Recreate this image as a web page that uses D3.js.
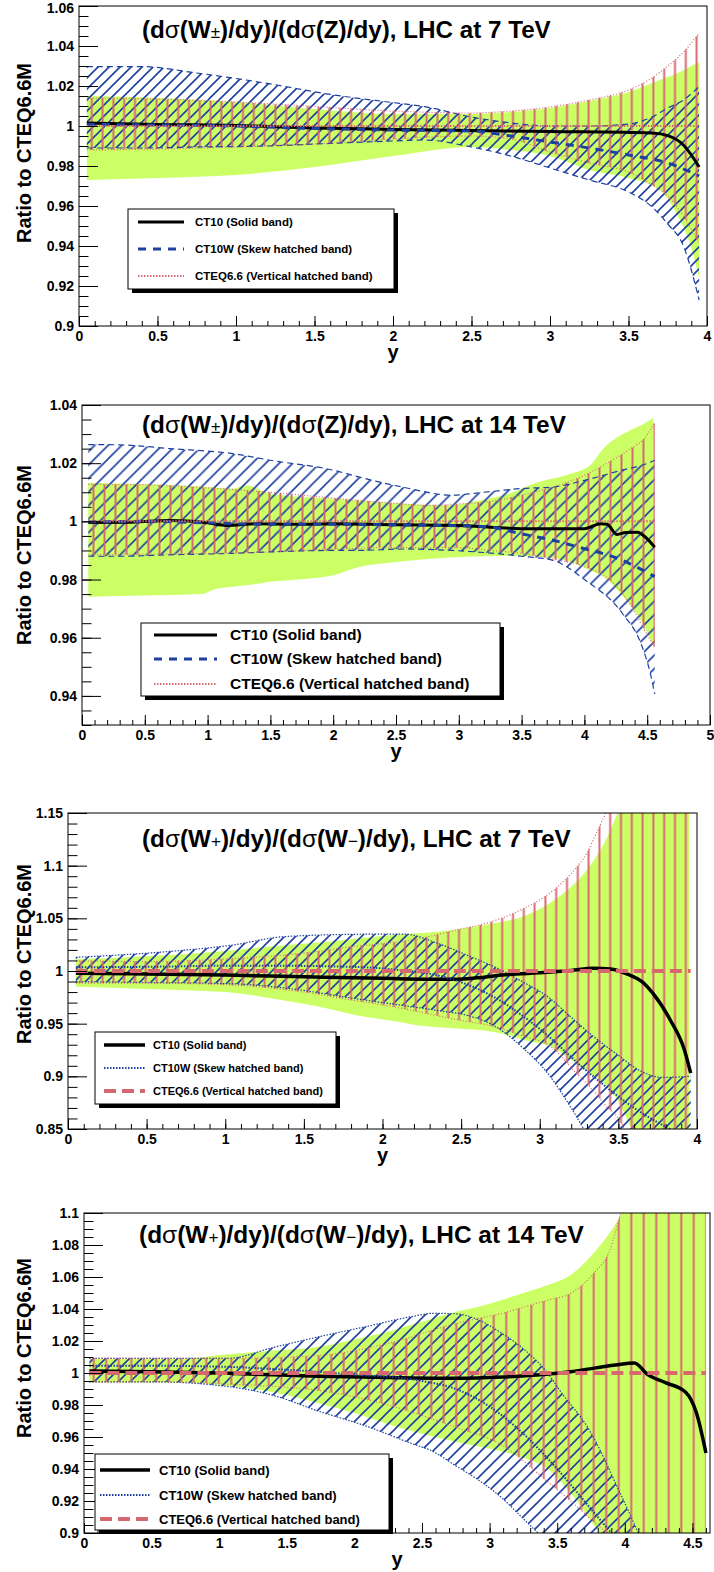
<!DOCTYPE html>
<html><head><meta charset="utf-8">
<script src="https://cdn.jsdelivr.net/npm/d3@7"></script>
<style>body{margin:0;background:#fff}svg{display:block}</style>
</head><body>
<svg id="c" width="714" height="1572"></svg>
<script>
// ---------------- DATA ----------------
// Panel 1: W±/Z, 7 TeV
const p1Ct10X  = [0.05, 0.5, 1.0, 1.5, 2.0, 2.5, 2.75, 3.0, 3.25, 3.5, 3.7, 3.8, 3.9, 3.95];
const p1Ct10Hi = [1.015, 1.014, 1.012, 1.0085, 1.006, 1.006, 1.007, 1.009, 1.0125, 1.017, 1.023, 1.026, 1.030, 1.032];
const p1Ct10Lo = [0.973, 0.974, 0.9755, 0.9795, 0.985, 0.9895, 0.988, 0.985, 0.978, 0.974, 0.968, 0.957, 0.939, 0.924];
const p1Ct10CX = [0.05, 0.5, 1.0, 1.5, 2.0, 2.5, 3.0, 3.5, 3.65, 3.75, 3.85, 3.95];
const p1Ct10C  = [1.0015, 1.0008, 1.0003, 0.999, 0.9983, 0.9978, 0.9972, 0.9968, 0.9965, 0.9952, 0.9905, 0.9795];
const p1WX  = [0.05, 0.4, 0.75, 1.2, 1.6, 2.0, 2.2, 2.5, 2.75, 3.0, 3.25, 3.5, 3.65, 3.75, 3.85, 3.95];
const p1WHi = [1.0297, 1.0297, 1.0265, 1.0213, 1.0158, 1.0117, 1.0097, 1.0045, 1.0015, 1.0, 1.0, 1.001, 1.0045, 1.009, 1.013, 1.0197];
const p1WLo = [0.989, 0.989, 0.9895, 0.990, 0.9913, 0.9925, 0.993, 0.9895, 0.985, 0.979, 0.973, 0.967, 0.9595, 0.951, 0.94, 0.913];
const p1WCX = [0.05, 0.5, 1.0, 1.5, 2.0, 2.5, 2.75, 3.0, 3.25, 3.5, 3.75, 3.95];
const p1WC  = [1.0008, 1.0005, 1.0, 0.9988, 0.998, 0.9975, 0.995, 0.992, 0.989, 0.9855, 0.9815, 0.975];
const p1QX  = [0.05, 0.5, 1.0, 1.5, 2.0, 2.5, 2.75, 3.0, 3.25, 3.5, 3.65, 3.75, 3.85, 3.95];
const p1QHi = [1.014, 1.0135, 1.012, 1.0098, 1.0075, 1.0065, 1.0075, 1.0095, 1.013, 1.018, 1.024, 1.030, 1.037, 1.0465];
const p1QLo = [0.988, 0.9885, 0.9895, 0.991, 0.9935, 0.995, 0.9935, 0.987, 0.9815, 0.977, 0.9705, 0.965, 0.955, 0.941];
const p1QCX = [0.05, 3.95];
const p1QC  = [1, 1];

// Panel 2: W±/Z, 14 TeV
const p2Ct10X  = [0.05, 0.5, 0.95, 1.05, 1.2, 1.3, 1.5, 2.0, 2.2, 2.5, 2.9, 3.2, 3.4, 3.6, 3.9, 4.05, 4.15, 4.35, 4.45, 4.55];
const p2Ct10Hi = [1.0133, 1.0128, 1.012, 1.0116, 1.0112, 1.0124, 1.0095, 1.0078, 1.0072, 1.0062, 1.0055, 1.0075, 1.0095, 1.013, 1.0165, 1.0195, 1.025, 1.031, 1.033, 1.0355];
const p2Ct10Lo = [0.9741, 0.9745, 0.975, 0.9766, 0.9775, 0.978, 0.9792, 0.9815, 0.9842, 0.986, 0.9875, 0.988, 0.9882, 0.988, 0.986, 0.983, 0.981, 0.972, 0.966, 0.957];
const p2Ct10CX = [0.05, 0.4, 0.7, 1.0, 1.15, 1.4, 1.7, 2.0, 2.5, 3.0, 3.5, 4.0, 4.13, 4.18, 4.26, 4.33, 4.42, 4.5, 4.56];
const p2Ct10C  = [0.9996, 0.9997, 1.0003, 0.9995, 0.9986, 0.9992, 0.999, 0.9992, 0.9988, 0.9986, 0.9975, 0.9975, 0.9992, 0.999, 0.9955, 0.9962, 0.9963, 0.994, 0.9911];
const p2WX  = [0.05, 0.3, 0.7, 1.2, 1.5, 2.0, 2.2, 2.55, 2.95, 3.2, 3.5, 3.75, 4.0, 4.3, 4.45, 4.52, 4.56];
const p2WHi = [1.0264, 1.0263, 1.025, 1.0233, 1.021, 1.0176, 1.0153, 1.0118, 1.009, 1.010, 1.0113, 1.0118, 1.0141, 1.0176, 1.0192, 1.0202, 1.021];
const p2WLo = [0.988, 0.988, 0.9885, 0.989, 0.9895, 0.990, 0.990, 0.9905, 0.990, 0.9893, 0.988, 0.9866, 0.980, 0.9685, 0.958, 0.9486, 0.9407];
const p2WCX = [0.05, 0.5, 1.0, 1.5, 2.0, 2.5, 3.0, 3.25, 3.5, 3.75, 4.0, 4.25, 4.42, 4.56];
const p2WC  = [0.9998, 1.0, 0.9995, 0.999, 0.999, 0.9988, 0.9985, 0.998, 0.9957, 0.9935, 0.9906, 0.9875, 0.9842, 0.981];
const p2QX  = [0.05, 0.5, 1.0, 1.5, 2.0, 2.5, 2.75, 3.0, 3.25, 3.5, 3.75, 4.0, 4.2, 4.35, 4.5, 4.56];
const p2QHi = [1.0127, 1.0126, 1.0115, 1.010, 1.008, 1.0062, 1.0055, 1.006, 1.0068, 1.009, 1.0118, 1.0158, 1.0205, 1.0245, 1.0297, 1.034];
const p2QLo = [0.9885, 0.9887, 0.989, 0.9895, 0.9905, 0.991, 0.991, 0.991, 0.990, 0.989, 0.987, 0.9845, 0.980, 0.9725, 0.961, 0.9566];
const p2QCX = [0.05, 4.56];
const p2QC  = [1, 1];

// Panel 3: W+/W-, 7 TeV
const p3Ct10X  = [0.05, 0.5, 1.0, 1.3, 1.6, 1.85, 2.05, 2.25, 2.45, 2.7, 2.9, 3.1, 3.2, 3.3, 3.43, 3.5, 3.6, 3.8, 3.95];
const p3Ct10Hi = [1.0111, 1.014, 1.019, 1.0235, 1.027, 1.031, 1.034, 1.036, 1.039, 1.045, 1.052, 1.068, 1.08, 1.096, 1.1275, 1.152, 1.19, 1.27, 1.33];
const p3Ct10Lo = [0.9851, 0.983, 0.980, 0.974, 0.966, 0.9575, 0.953, 0.948, 0.9456, 0.9424, 0.9345, 0.926, 0.9155, 0.905, 0.890, 0.876, 0.845, 0.80, 0.77];
const p3Ct10CX = [0.05, 0.5, 1.0, 1.5, 2.0, 2.47, 2.6, 2.76, 3.05, 3.2, 3.34, 3.45, 3.57, 3.65, 3.72, 3.83, 3.92, 3.96];
const p3Ct10C  = [0.9978, 0.9972, 0.9962, 0.9945, 0.993, 0.9921, 0.9935, 0.9962, 0.9987, 1.0005, 1.0025, 1.002, 0.9962, 0.990, 0.9788, 0.9535, 0.925, 0.903];
const p3WX  = [0.05, 0.63, 1.05, 1.37, 1.86, 2.14, 2.35, 2.56, 2.71, 2.9, 3.05, 3.2, 3.34, 3.5, 3.63, 3.78, 3.96];
const p3WHi = [1.013, 1.0184, 1.0247, 1.0326, 1.0349, 1.0351, 1.0263, 1.0136, 1.0041, 0.989, 0.9757, 0.956, 0.938, 0.92, 0.906, 0.899, 0.9];
const p3WLo = [0.9897, 0.9888, 0.9878, 0.984, 0.973, 0.967, 0.9625, 0.957, 0.948, 0.926, 0.903, 0.87, 0.835, 0.80, 0.77, 0.74, 0.70];
const p3WCX = [0.05, 0.5, 1.0, 1.3, 1.8, 2.1, 2.4, 2.7, 3.0, 3.3, 3.6, 3.96];
const p3WC  = [1.0035, 1.004, 1.005, 1.005, 1.004, 1.001, 0.994, 0.976, 0.945, 0.905, 0.87, 0.84];
const p3QX  = [0.05, 0.5, 1.0, 1.5, 1.82, 2.0, 2.24, 2.5, 2.66, 2.88, 3.09, 3.22, 3.3, 3.36, 3.42, 3.5, 3.6, 3.8, 3.95];
const p3QHi = [1.0098, 1.009, 1.0115, 1.017, 1.0234, 1.026, 1.031, 1.040, 1.0453, 1.058, 1.077, 1.096, 1.112, 1.131, 1.15, 1.18, 1.21, 1.27, 1.33];
const p3QLo = [0.9885, 0.9885, 0.987, 0.98, 0.972, 0.968, 0.961, 0.953, 0.949, 0.939, 0.926, 0.905, 0.893, 0.883, 0.872, 0.86, 0.83, 0.78, 0.74];
const p3QCX = [0.05, 3.96];
const p3QC  = [1, 1];

// Panel 4: W+/W-, 14 TeV
const p4Ct10X  = [0.04, 0.73, 1.0, 1.4, 1.74, 2.0, 2.25, 2.5, 2.75, 2.92, 3.09, 3.25, 3.43, 3.6, 3.77, 3.9, 3.98, 4.2, 4.6];
const p4Ct10Hi = [1.0087, 1.0087, 1.0112, 1.014, 1.0164, 1.021, 1.0258, 1.032, 1.0383, 1.0414, 1.0456, 1.05, 1.055, 1.0613, 1.075, 1.089, 1.10, 1.13, 1.18];
const p4Ct10Lo = [0.994, 0.994, 0.9925, 0.988, 0.981, 0.975, 0.968, 0.962, 0.957, 0.954, 0.951, 0.947, 0.94, 0.925, 0.905, 0.89, 0.88, 0.86, 0.82];
const p4Ct10CX = [0.04, 0.5, 1.07, 1.74, 2.25, 2.75, 3.1, 3.4, 3.6, 3.93, 4.07, 4.17, 4.3, 4.45, 4.53, 4.6];
const p4Ct10C  = [1.0012, 1.0008, 0.9998, 0.998, 0.9972, 0.9967, 0.9975, 0.999, 1.0008, 1.005, 1.0063, 0.999, 0.994, 0.988, 0.975, 0.95];
const p4WX  = [0.04, 0.5, 1.07, 1.4, 1.74, 2.08, 2.42, 2.58, 2.75, 2.92, 3.09, 3.26, 3.43, 3.52, 3.74, 3.96, 4.1];
const p4WHi = [1.0092, 1.0092, 1.0092, 1.016, 1.0227, 1.0289, 1.0352, 1.0373, 1.037, 1.0331, 1.0248, 1.0144, 0.9998, 0.989, 0.964, 0.926, 0.90];
const p4WLo = [0.9945, 0.9945, 0.9915, 0.986, 0.976, 0.967, 0.956, 0.951, 0.942, 0.933, 0.922, 0.908, 0.894, 0.886, 0.865, 0.84, 0.82];
const p4WCX = [0.04, 0.5, 1.0, 1.5, 2.0, 2.5, 2.75, 3.0, 3.25, 3.5, 3.75, 4.0];
const p4WC  = [1.0045, 1.0045, 1.004, 1.002, 0.999, 0.995, 0.99, 0.979, 0.962, 0.94, 0.915, 0.89];
const p4QX  = [0.04, 0.5, 1.07, 1.74, 2.25, 2.75, 3.09, 3.43, 3.6, 3.77, 3.89, 3.97, 4.2, 4.6];
const p4QHi = [1.0092, 1.0092, 1.0092, 1.011, 1.0185, 1.031, 1.0373, 1.0456, 1.0498, 1.0623, 1.077, 1.10, 1.14, 1.2];
const p4QLo = [0.9945, 0.9945, 0.993, 0.989, 0.98, 0.966, 0.955, 0.932, 0.92, 0.907, 0.898, 0.89, 0.87, 0.83];
const p4QCX = [0.04, 4.6];
const p4QC  = [1, 1];

// Ticks
const p1YTicks = [0.9, 0.92, 0.94, 0.96, 0.98, 1, 1.02, 1.04, 1.06];
const p1YLabels = ["0.9", "0.92", "0.94", "0.96", "0.98", "1", "1.02", "1.04", "1.06"];
const p1XTicks = [0, 0.5, 1, 1.5, 2, 2.5, 3, 3.5, 4];
const p1XLabels = ["0", "0.5", "1", "1.5", "2", "2.5", "3", "3.5", "4"];
const p2YTicks = [0.94, 0.96, 0.98, 1, 1.02, 1.04];
const p2YLabels = ["0.94", "0.96", "0.98", "1", "1.02", "1.04"];
const p2XTicks = [0, 0.5, 1, 1.5, 2, 2.5, 3, 3.5, 4, 4.5, 5];
const p2XLabels = ["0", "0.5", "1", "1.5", "2", "2.5", "3", "3.5", "4", "4.5", "5"];
const p3YTicks = [0.85, 0.9, 0.95, 1, 1.05, 1.1, 1.15];
const p3YLabels = ["0.85", "0.9", "0.95", "1", "1.05", "1.1", "1.15"];
const p3XTicks = [0, 0.5, 1, 1.5, 2, 2.5, 3, 3.5, 4];
const p3XLabels = ["0", "0.5", "1", "1.5", "2", "2.5", "3", "3.5", "4"];
const p4YTicks = [0.9, 0.92, 0.94, 0.96, 0.98, 1, 1.02, 1.04, 1.06, 1.08, 1.1];
const p4YLabels = ["0.9", "0.92", "0.94", "0.96", "0.98", "1", "1.02", "1.04", "1.06", "1.08", "1.1"];
const p4XTicks = [0, 0.5, 1, 1.5, 2, 2.5, 3, 3.5, 4, 4.5];
const p4XLabels = ["0", "0.5", "1", "1.5", "2", "2.5", "3", "3.5", "4", "4.5"];

const legendNames = ["CT10 (Solid band)", "CT10W (Skew hatched band)", "CTEQ6.6 (Vertical hatched band)"];
const yTitle = "Ratio to CTEQ6.6M";

// ---------------- STYLE / LAYOUT ----------------
const FONT = "'Liberation Sans', Arial, Helvetica, sans-serif";
const GREEN = "#ccff66", BLUE = "#1e40a0", RED = "#d6696f";
const STYLE_A = {
  ct10: {color: "#000", w: 3}, w: {color: BLUE, w: 3, dash: "8,7"}, q: {color: RED, w: 2, dash: "1.5,1.5"},
  wB: {color: BLUE, w: 1.2, dash: "6,4"}, qB: {color: RED, w: 1.2, dash: "1,2"}
};
const STYLE_B = {
  ct10: {color: "#000", w: 3.5}, w: {color: BLUE, w: 2, dash: "1.5,1.5"}, q: {color: RED, w: 4, dash: "12,6"},
  wB: {color: BLUE, w: 1.2, dash: "1.5,1.5"}, qB: {color: RED, w: 1.2, dash: "1,2"}
};

const panels = [
  {id: 1, left: 79, right: 707, top: 6, bottom: 326, xDomain: [0, 4], yDomain: [0.9, 1.06], yMinor: 0.005, xMinor: 0.1,
   yTicks: p1YTicks, yLabels: p1YLabels, xTicks: p1XTicks, xLabels: p1XLabels, style: STYLE_A, bSp: 11, rSp: 10.8,
   title: [["(d"], ["σ", "sym"], ["(W"], ["±", "small"], [")/dy)/(d"], ["σ", "sym"], ["(Z)/dy), LHC at 7 TeV"]],
   titleX: 142, titleY: 38, titleW: 409, yTitleY: 153,
   leg: {x: 128, y: 209, w: 266, h: 80, ys: [222, 249, 276], s0: 138, s1: 184, tx: 195, fs: 11.5},
   ct10: [p1Ct10X, p1Ct10Hi, p1Ct10Lo, p1Ct10CX, p1Ct10C], wb: [p1WX, p1WHi, p1WLo, p1WCX, p1WC], qb: [p1QX, p1QHi, p1QLo, p1QCX, p1QC]},
  {id: 2, left: 82, right: 710, top: 405, bottom: 725, xDomain: [0, 5], yDomain: [0.93, 1.04], yMinor: 0.005, xMinor: 0.1,
   yTicks: p2YTicks, yLabels: p2YLabels, xTicks: p2XTicks, xLabels: p2XLabels, style: STYLE_A, bSp: 13.5, rSp: 11,
   title: [["(d"], ["σ", "sym"], ["(W"], ["±", "small"], [")/dy)/(d"], ["σ", "sym"], ["(Z)/dy), LHC at 14 TeV"]],
   titleX: 142, titleY: 433, titleW: 424, yTitleY: 555,
   leg: {x: 141, y: 623, w: 359, h: 73, ys: [635, 659, 684], s0: 154, s1: 217, tx: 230, fs: 15.5},
   ct10: [p2Ct10X, p2Ct10Hi, p2Ct10Lo, p2Ct10CX, p2Ct10C], wb: [p2WX, p2WHi, p2WLo, p2WCX, p2WC], qb: [p2QX, p2QHi, p2QLo, p2QCX, p2QC]},
  {id: 3, left: 68, right: 697, top: 813, bottom: 1129, xDomain: [0, 4], yDomain: [0.85, 1.15], yMinor: 0.01, xMinor: 0.1,
   yTicks: p3YTicks, yLabels: p3YLabels, xTicks: p3XTicks, xLabels: p3XLabels, style: STYLE_B, bSp: 11, rSp: 10.8,
   title: [["(d"], ["σ", "sym"], ["(W"], ["+", "small"], [")/dy)/(d"], ["σ", "sym"], ["(W"], ["−", "small"], [")/dy), LHC at 7 TeV"]],
   titleX: 142, titleY: 847, titleW: 429, yTitleY: 954,
   leg: {x: 95, y: 1032, w: 241, h: 72, ys: [1045, 1068, 1091], s0: 104, s1: 145, tx: 153, fs: 11},
   ct10: [p3Ct10X, p3Ct10Hi, p3Ct10Lo, p3Ct10CX, p3Ct10C], wb: [p3WX, p3WHi, p3WLo, p3WCX, p3WC], qb: [p3QX, p3QHi, p3QLo, p3QCX, p3QC]},
  {id: 4, left: 84, right: 710, top: 1213, bottom: 1533, xDomain: [0, 4.63], yDomain: [0.9, 1.1], yMinor: 0.005, xMinor: 0.1,
   yTicks: p4YTicks, yLabels: p4YLabels, xTicks: p4XTicks, xLabels: p4XLabels, style: STYLE_B, bSp: 12, rSp: 12.5,
   title: [["(d"], ["σ", "sym"], ["(W"], ["+", "small"], [")/dy)/(d"], ["σ", "sym"], ["(W"], ["−", "small"], [")/dy), LHC at 14 TeV"]],
   titleX: 139, titleY: 1243, titleW: 445, yTitleY: 1348,
   leg: {x: 95, y: 1454, w: 294, h: 76, ys: [1470, 1495, 1519], s0: 100, s1: 150, tx: 159, fs: 13},
   ct10: [p4Ct10X, p4Ct10Hi, p4Ct10Lo, p4Ct10CX, p4Ct10C], wb: [p4WX, p4WHi, p4WLo, p4WCX, p4WC], qb: [p4QX, p4QHi, p4QLo, p4QCX, p4QC]}
];

// ---------------- DRAW ----------------
const svg = d3.select("#c");
const defs = svg.append("defs");

function band(g, sx, sy, X, hi, lo, fill) {
  const a = d3.area().x(d => sx(d)).y0((d, i) => sy(lo[i])).y1((d, i) => sy(hi[i])).curve(d3.curveMonotoneX);
  g.append("path").datum(X).attr("d", a).attr("fill", fill).attr("stroke", "none");
}
function curve(g, sx, sy, X, V, st) {
  const l = d3.line().x(d => sx(d)).y((d, i) => sy(V[i])).curve(d3.curveMonotoneX);
  g.append("path").datum(X).attr("d", l).attr("fill", "none")
    .attr("stroke", st.color).attr("stroke-width", st.w).attr("stroke-dasharray", st.dash || null);
}
function minorTicks(dom, step) {
  const n = Math.round((dom[1] - dom[0]) / step);
  return d3.range(n + 1).map(i => +(dom[0] + i * step).toFixed(4));
}
function styleText(sel, size) {
  sel.selectAll("text").attr("font-family", FONT).attr("font-size", size).attr("font-weight", "bold").attr("fill", "#000");
}

panels.forEach(P => {
  const sx = d3.scaleLinear().domain(P.xDomain).range([P.left, P.right]);
  const sy = d3.scaleLinear().domain(P.yDomain).range([P.bottom, P.top]);
  const g = svg.append("g");
  const st = P.style;

  defs.append("clipPath").attr("id", "clip" + P.id).append("rect")
    .attr("x", P.left).attr("y", P.top).attr("width", P.right - P.left).attr("height", P.bottom - P.top);
  const s = P.bSp;
  const bp = defs.append("pattern").attr("id", "bh" + P.id).attr("patternUnits", "userSpaceOnUse")
    .attr("width", s).attr("height", s);
  bp.append("path").attr("d", `M-2,2 L2,-2 M0,${s} L${s},0 M${s - 2},${s + 2} L${s + 2},${s - 2}`)
    .attr("stroke", BLUE).attr("stroke-width", 1.6);
  const rp = defs.append("pattern").attr("id", "rh" + P.id).attr("patternUnits", "userSpaceOnUse")
    .attr("width", P.rSp).attr("height", 4);
  rp.append("path").attr("d", `M${P.rSp / 2},0 V4`).attr("stroke", RED).attr("stroke-width", 2);

  const pg = g.append("g").attr("clip-path", `url(#clip${P.id})`);
  band(pg, sx, sy, P.ct10[0], P.ct10[1], P.ct10[2], GREEN);
  band(pg, sx, sy, P.wb[0], P.wb[1], P.wb[2], `url(#bh${P.id})`);
  band(pg, sx, sy, P.qb[0], P.qb[1], P.qb[2], `url(#rh${P.id})`);
  curve(pg, sx, sy, P.wb[0], P.wb[1], st.wB);
  curve(pg, sx, sy, P.wb[0], P.wb[2], st.wB);
  curve(pg, sx, sy, P.qb[0], P.qb[1], st.qB);
  curve(pg, sx, sy, P.qb[0], P.qb[2], st.qB);
  curve(pg, sx, sy, P.ct10[3], P.ct10[4], st.ct10);
  curve(pg, sx, sy, P.wb[3], P.wb[4], st.w);
  curve(pg, sx, sy, P.qb[3], P.qb[4], st.q);

  // axes
  const yMin = g.append("g").attr("transform", `translate(${P.left},0)`)
    .call(d3.axisLeft(sy).tickValues(minorTicks(P.yDomain, P.yMinor)).tickFormat("").tickSizeInner(-9.5).tickSizeOuter(0));
  yMin.select(".domain").remove();
  const yMaj = g.append("g").attr("transform", `translate(${P.left},0)`)
    .call(d3.axisLeft(sy).tickValues(P.yTicks).tickFormat(d => P.yLabels[P.yTicks.indexOf(d)])
      .tickSizeInner(-19).tickSizeOuter(0).tickPadding(5));
  yMaj.select(".domain").remove();
  styleText(yMaj, 14);
  yMaj.selectAll("text").filter(d => sy(d) < 12).attr("y", 2.5);
  const xMin = g.append("g").attr("transform", `translate(0,${P.bottom})`)
    .call(d3.axisBottom(sx).tickValues(minorTicks([P.xDomain[0], Math.floor(P.xDomain[1] * 10) / 10], P.xMinor)).tickFormat("").tickSizeInner(-5).tickSizeOuter(0));
  xMin.select(".domain").remove();
  const xMaj = g.append("g").attr("transform", `translate(0,${P.bottom})`)
    .call(d3.axisBottom(sx).tickValues(P.xTicks).tickFormat(d => P.xLabels[P.xTicks.indexOf(d)])
      .tickSizeInner(-10).tickSizeOuter(0).tickPadding(5));
  xMaj.select(".domain").remove();
  styleText(xMaj, 14);

  g.append("rect").attr("x", P.left).attr("y", P.top).attr("width", P.right - P.left).attr("height", P.bottom - P.top)
    .attr("fill", "none").attr("stroke", "#000").attr("stroke-width", 1);

  // axis titles
  g.append("text").attr("x", (P.left + P.right) / 2).attr("y", P.bottom + 33).attr("text-anchor", "middle")
    .attr("font-family", FONT).attr("font-weight", "bold").attr("font-size", 20).text("y");
  g.append("text").attr("transform", `translate(31,${P.yTitleY}) rotate(-90)`).attr("text-anchor", "middle")
    .attr("font-family", FONT).attr("font-weight", "bold").attr("font-size", 20).text(yTitle);

  // title
  const t = g.append("text").attr("x", P.titleX).attr("y", P.titleY)
    .attr("font-family", FONT).attr("font-weight", "bold").attr("font-size", 24);
  P.title.forEach(([txt, kind]) => {
    const ts = t.append("tspan").text(txt);
    if (kind === "sym") ts.attr("font-weight", "normal");
    if (kind === "small") ts.attr("font-weight", "normal").attr("font-size", "0.7em");
  });
  const tw = t.node().getComputedTextLength();
  if (tw > 0) t.attr("font-size", 24 * P.titleW / tw);

  // legend
  const L = P.leg;
  const lg = g.append("g");
  lg.append("rect").attr("x", L.x + 4).attr("y", L.y + 4).attr("width", L.w).attr("height", L.h).attr("fill", "#000");
  lg.append("rect").attr("x", L.x).attr("y", L.y).attr("width", L.w).attr("height", L.h)
    .attr("fill", "#fff").attr("stroke", "#000").attr("stroke-width", 1);
  [st.ct10, st.w, st.q].forEach((ls, i) => {
    lg.append("line").attr("x1", L.s0).attr("x2", L.s1).attr("y1", L.ys[i]).attr("y2", L.ys[i])
      .attr("stroke", ls.color).attr("stroke-width", ls.w).attr("stroke-dasharray", ls.dash || null);
    lg.append("text").attr("x", L.tx).attr("y", L.ys[i]).attr("dy", "0.35em")
      .attr("font-family", FONT).attr("font-weight", "bold").attr("font-size", L.fs).text(legendNames[i]);
  });
});
</script>
</body></html>
